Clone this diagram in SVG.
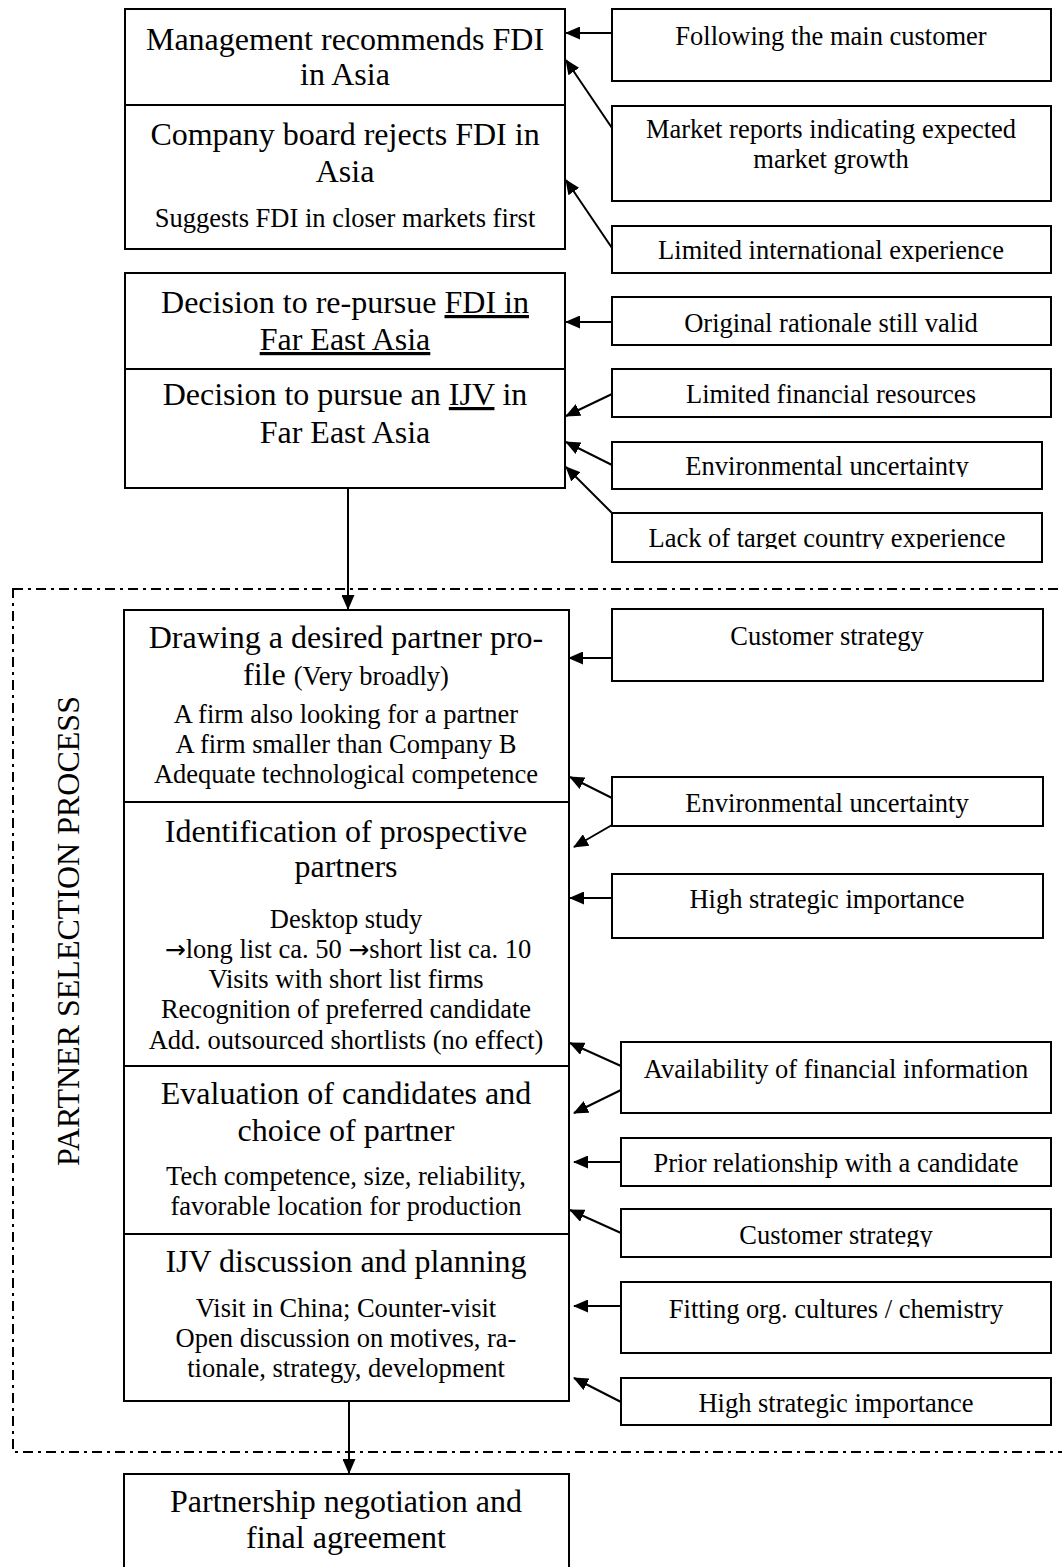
<svg xmlns="http://www.w3.org/2000/svg" width="1062" height="1567" viewBox="0 0 1062 1567">
  <style>
    .box { fill: #fff; stroke: #000; stroke-width: 2; }
    .t { font-family: "Liberation Serif", "Times New Roman", serif; text-anchor: middle; fill: #000; }
    .big { font-size: 32px; }
    .small { font-size: 26.5px; }
    .sym { font-family: "DejaVu Sans", sans-serif; font-size: 25px; }
    .conn { stroke: #000; stroke-width: 2; fill: none; marker-end: url(#ah); }
    .frame { fill: none; stroke: #000; stroke-width: 2; stroke-dasharray: 10 5 3 5; }
    .u { text-decoration: underline; }
  </style>
  <defs>
    <marker id="ah" markerUnits="userSpaceOnUse" viewBox="0 0 15 13" refX="14" refY="6.5" markerWidth="15" markerHeight="13" orient="auto">
      <path d="M0,0 L15,6.5 L0,13 z" fill="#000"/>
    </marker>
    <clipPath id="clip-intl"><rect x="612" y="226" width="439" height="36"/></clipPath>
    <clipPath id="clip-env1"><rect x="612" y="442" width="430" height="35"/></clipPath>
    <clipPath id="clip-lack"><rect x="612" y="513" width="430" height="36"/></clipPath>
    <clipPath id="clip-cust2"><rect x="621" y="1209" width="430" height="38"/></clipPath>
  </defs>
  <rect width="1062" height="1567" fill="#fff"/>

  <!-- dash-dot frame around the selection stages -->
  <rect class="frame" x="13" y="589" width="1062" height="863"/>
  <g id="lbl-process">
    <text class="t" font-size="32" transform="translate(79,931) rotate(-90)">PARTNER SELECTION PROCESS</text>
  </g>

  <!-- main sequence -->
  <g id="n-mgmt">
    <rect class="box" x="125" y="9" width="440" height="96"/>
    <text class="t big" x="345" y="50">Management recommends FDI</text>
    <text class="t big" x="345" y="85">in Asia</text>
  </g>
  <g id="n-board">
    <rect class="box" x="125" y="105" width="440" height="144"/>
    <text class="t big" x="345" y="145">Company board rejects FDI in</text>
    <text class="t big" x="345" y="182">Asia</text>
    <text class="t small" x="345" y="227">Suggests FDI in closer markets first</text>
  </g>
  <g id="n-repursue">
    <rect class="box" x="125" y="273" width="440" height="96"/>
    <text class="t big" x="345" y="313">Decision to re-pursue <tspan class="u">FDI in</tspan></text>
    <text class="t big u" x="345" y="350">Far East Asia</text>
  </g>
  <g id="n-ijv">
    <rect class="box" x="125" y="369" width="440" height="119"/>
    <text class="t big" x="345" y="405">Decision to pursue an <tspan class="u">IJV</tspan> in</text>
    <text class="t big" x="345" y="443">Far East Asia</text>
  </g>
  <g id="n-profile">
    <rect class="box" x="124" y="610" width="445" height="192"/>
    <text class="t big" x="346" y="648">Drawing a desired partner pro-</text>
    <text class="t big" x="346" y="685">file <tspan class="small">(Very broadly)</tspan></text>
    <text class="t small" x="346" y="723">A firm also looking for a partner</text>
    <text class="t small" x="346" y="753">A firm smaller than Company B</text>
    <text class="t small" x="346" y="783">Adequate technological competence</text>
  </g>
  <g id="n-identify">
    <rect class="box" x="124" y="802" width="445" height="264"/>
    <text class="t big" x="346" y="842">Identification of prospective</text>
    <text class="t big" x="346" y="877">partners</text>
    <text class="t small" x="346" y="928">Desktop study</text>
    <text class="t small" x="348" y="958"><tspan class="sym">→</tspan>long list ca. 50 <tspan class="sym">→</tspan>short list ca. 10</text>
    <text class="t small" x="346" y="988">Visits with short list firms</text>
    <text class="t small" x="346" y="1018">Recognition of preferred candidate</text>
    <text class="t small" x="346" y="1049">Add. outsourced shortlists (no effect)</text>
  </g>
  <g id="n-evaluate">
    <rect class="box" x="124" y="1066" width="445" height="168"/>
    <text class="t big" x="346" y="1104">Evaluation of candidates and</text>
    <text class="t big" x="346" y="1141">choice of partner</text>
    <text class="t small" x="346" y="1185">Tech competence, size, reliability,</text>
    <text class="t small" x="346" y="1215">favorable location for production</text>
  </g>
  <g id="n-discuss">
    <rect class="box" x="124" y="1234" width="445" height="167"/>
    <text class="t big" x="346" y="1272">IJV discussion and planning</text>
    <text class="t small" x="346" y="1317">Visit in China; Counter-visit</text>
    <text class="t small" x="346" y="1347">Open discussion on motives, ra-</text>
    <text class="t small" x="346" y="1377">tionale, strategy, development</text>
  </g>
  <g id="n-negotiate">
    <rect class="box" x="124" y="1474" width="445" height="110"/>
    <text class="t big" x="346" y="1512">Partnership negotiation and</text>
    <text class="t big" x="346" y="1548">final agreement</text>
  </g>

  <!-- influencing factors -->
  <g id="f-customer">
    <rect class="box" x="612" y="9" width="439" height="72"/>
    <text class="t small" x="831" y="45">Following the main customer</text>
  </g>
  <g id="f-market">
    <rect class="box" x="612" y="106" width="439" height="95"/>
    <text class="t small" x="831" y="138">Market reports indicating expected</text>
    <text class="t small" x="831" y="168">market growth</text>
  </g>
  <g id="f-intl">
    <rect class="box" x="612" y="226" width="439" height="47"/>
    <text class="t small" x="831" y="259" clip-path="url(#clip-intl)">Limited international experience</text>
  </g>
  <g id="f-rationale">
    <rect class="box" x="612" y="297" width="439" height="48"/>
    <text class="t small" x="831" y="332">Original rationale still valid</text>
  </g>
  <g id="f-finance">
    <rect class="box" x="612" y="369" width="439" height="48"/>
    <text class="t small" x="831" y="403">Limited financial resources</text>
  </g>
  <g id="f-env1">
    <rect class="box" x="612" y="442" width="430" height="47"/>
    <text class="t small" x="827" y="475" clip-path="url(#clip-env1)">Environmental uncertainty</text>
  </g>
  <g id="f-lack">
    <rect class="box" x="612" y="513" width="430" height="49"/>
    <text class="t small" x="827" y="547" clip-path="url(#clip-lack)">Lack of target country experience</text>
  </g>
  <g id="f-cust1">
    <rect class="box" x="612" y="609" width="431" height="72"/>
    <text class="t small" x="827" y="645">Customer strategy</text>
  </g>
  <g id="f-env2">
    <rect class="box" x="612" y="777" width="431" height="49"/>
    <text class="t small" x="827" y="812">Environmental uncertainty</text>
  </g>
  <g id="f-strat1">
    <rect class="box" x="612" y="874" width="431" height="64"/>
    <text class="t small" x="827" y="908">High strategic importance</text>
  </g>
  <g id="f-avail">
    <rect class="box" x="621" y="1042" width="430" height="71"/>
    <text class="t small" x="836" y="1078">Availability of financial information</text>
  </g>
  <g id="f-prior">
    <rect class="box" x="621" y="1138" width="430" height="48"/>
    <text class="t small" x="836" y="1172">Prior relationship with a candidate</text>
  </g>
  <g id="f-cust2">
    <rect class="box" x="621" y="1209" width="430" height="48"/>
    <text class="t small" x="836" y="1244" clip-path="url(#clip-cust2)">Customer strategy</text>
  </g>
  <g id="f-fit">
    <rect class="box" x="621" y="1282" width="430" height="71"/>
    <text class="t small" x="836" y="1318">Fitting org. cultures / chemistry</text>
  </g>
  <g id="f-strat2">
    <rect class="box" x="621" y="1378" width="430" height="47"/>
    <text class="t small" x="836" y="1412">High strategic importance</text>
  </g>

  <!-- connectors -->
  <g id="connectors">
    <line class="conn" x1="612" y1="33" x2="566" y2="33"/>
    <line class="conn" x1="612" y1="128" x2="566" y2="60"/>
    <line class="conn" x1="612" y1="248" x2="566" y2="180"/>
    <line class="conn" x1="612" y1="322" x2="566" y2="322"/>
    <line class="conn" x1="612" y1="394" x2="566" y2="416"/>
    <line class="conn" x1="612" y1="465" x2="566" y2="442"/>
    <line class="conn" x1="612" y1="513" x2="566" y2="467"/>
    <line class="conn" x1="348" y1="488" x2="348" y2="609"/>
    <line class="conn" x1="612" y1="658" x2="569" y2="658"/>
    <line class="conn" x1="612" y1="798" x2="570" y2="777"/>
    <line class="conn" x1="612" y1="825" x2="574" y2="847"/>
    <line class="conn" x1="612" y1="898" x2="570" y2="898"/>
    <line class="conn" x1="621" y1="1066" x2="570" y2="1043"/>
    <line class="conn" x1="621" y1="1090" x2="574" y2="1113"/>
    <line class="conn" x1="621" y1="1162" x2="574" y2="1162"/>
    <line class="conn" x1="621" y1="1233" x2="570" y2="1210"/>
    <line class="conn" x1="621" y1="1306" x2="574" y2="1306"/>
    <line class="conn" x1="621" y1="1402" x2="574" y2="1378"/>
    <line class="conn" x1="349" y1="1401" x2="349" y2="1473"/>
  </g>
</svg>
